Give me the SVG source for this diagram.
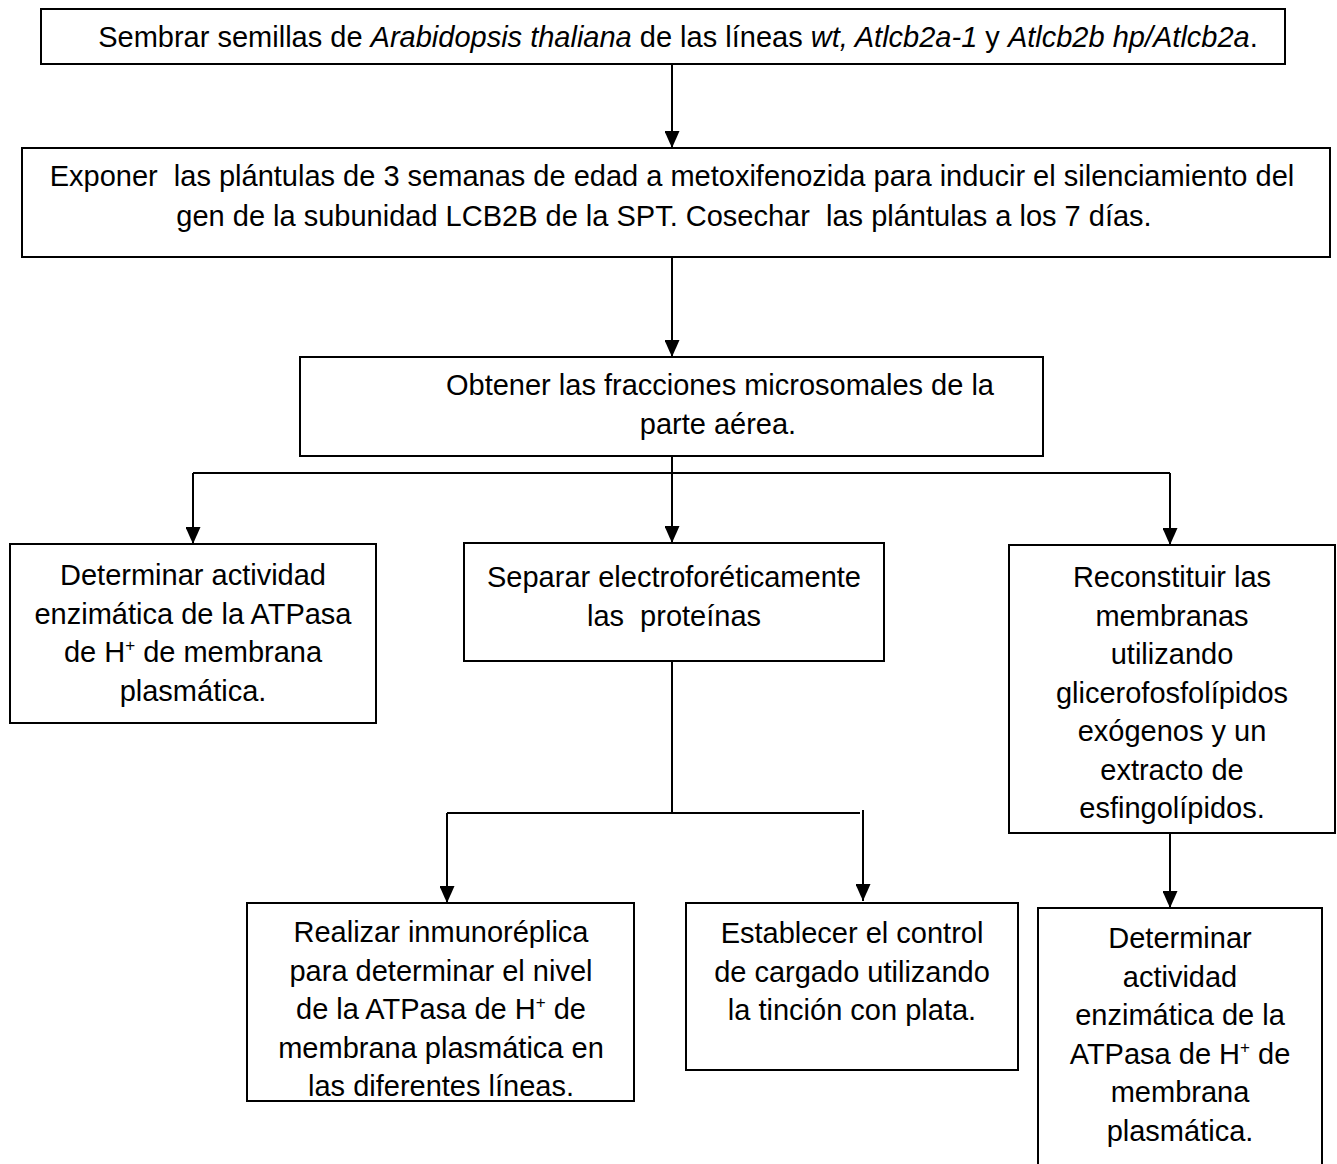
<svg xmlns="http://www.w3.org/2000/svg" width="1337" height="1164" viewBox="0 0 1337 1164">
<style>
.box{fill:#fff;stroke:#000;stroke-width:2}
.t{font-family:"Liberation Sans",Arial,sans-serif;font-size:29px;fill:#000;text-anchor:middle}
.i{font-style:italic}
.sup{font-size:17px}
.c{fill:none;stroke:#000;stroke-width:2}
</style>
<defs>
<marker id="ah" markerUnits="userSpaceOnUse" markerWidth="17" markerHeight="15" refX="17" refY="7.5" orient="auto">
<path d="M0,0 L17,7.5 L0,15 z" fill="#000"/>
</marker>
</defs>
<rect width="1337" height="1164" fill="#fff"/>
<g id="connectors">
<path class="c" d="M672,64 V148" marker-end="url(#ah)"/>
<path class="c" d="M672,257 V357" marker-end="url(#ah)"/>
<path class="c" d="M672,456 V543" marker-end="url(#ah)"/>
<path class="c" d="M193,473 H1170"/>
<path class="c" d="M193,473 V544" marker-end="url(#ah)"/>
<path class="c" d="M1170,473 V545" marker-end="url(#ah)"/>
<path class="c" d="M672,661 V813"/>
<path class="c" d="M447,813 H860"/>
<path class="c" d="M447,813 V903" marker-end="url(#ah)"/>
<path class="c" d="M863,810 V901" marker-end="url(#ah)"/>
<path class="c" d="M1170,833 V908" marker-end="url(#ah)"/>
</g>
<g id="n1">
<rect class="box" x="41" y="9" width="1244" height="55"/>
<text class="t" x="678" y="47">Sembrar semillas de <tspan class="i">Arabidopsis thaliana</tspan> de las líneas <tspan class="i">wt, Atlcb2a-1</tspan> y <tspan class="i">Atlcb2b hp/Atlcb2a</tspan>.</text>
</g>
<g id="n2">
<rect class="box" x="22" y="148" width="1308" height="109"/>
<text class="t" x="672" y="186" xml:space="preserve">Exponer  las plántulas de 3 semanas de edad a metoxifenozida para inducir el silenciamiento del</text>
<text class="t" x="664" y="226" xml:space="preserve">gen de la subunidad LCB2B de la SPT. Cosechar  las plántulas a los 7 días.</text>
</g>
<g id="n3">
<rect class="box" x="300" y="357" width="743" height="99"/>
<text class="t" x="720" y="395">Obtener las fracciones microsomales de la</text>
<text class="t" x="718" y="434">parte aérea.</text>
</g>
<g id="n4">
<rect class="box" x="10" y="544" width="366" height="179"/>
<text class="t" x="193" y="585">Determinar actividad</text>
<text class="t" x="193" y="623.5">enzimática de la ATPasa</text>
<text class="t" x="193" y="662">de H<tspan class="sup" dy="-11">+</tspan><tspan dy="11"> de membrana</tspan></text>
<text class="t" x="193" y="700.5">plasmática.</text>
</g>
<g id="n5">
<rect class="box" x="464" y="543" width="420" height="118"/>
<text class="t" x="674" y="587">Separar electroforéticamente</text>
<text class="t" x="674" y="626" xml:space="preserve">las  proteínas</text>
</g>
<g id="n6">
<rect class="box" x="1009" y="545" width="326" height="288"/>
<text class="t" x="1172" y="587">Reconstituir las</text>
<text class="t" x="1172" y="625.5">membranas</text>
<text class="t" x="1172" y="664">utilizando</text>
<text class="t" x="1172" y="702.5">glicerofosfolípidos</text>
<text class="t" x="1172" y="741">exógenos y un</text>
<text class="t" x="1172" y="779.5">extracto de</text>
<text class="t" x="1172" y="818">esfingolípidos.</text>
</g>
<g id="n7">
<rect class="box" x="247" y="903" width="387" height="198"/>
<text class="t" x="441" y="942">Realizar inmunoréplica</text>
<text class="t" x="441" y="980.5">para determinar el nivel</text>
<text class="t" x="441" y="1019">de la ATPasa de H<tspan class="sup" dy="-11">+</tspan><tspan dy="11"> de</tspan></text>
<text class="t" x="441" y="1057.5">membrana plasmática en</text>
<text class="t" x="441" y="1096">las diferentes líneas.</text>
</g>
<g id="n8">
<rect class="box" x="686" y="903" width="332" height="167"/>
<text class="t" x="852" y="943">Establecer el control</text>
<text class="t" x="852" y="981.5">de cargado utilizando</text>
<text class="t" x="852" y="1020">la tinción con plata.</text>
</g>
<g id="n9">
<rect class="box" x="1038" y="908" width="284" height="270"/>
<text class="t" x="1180" y="948">Determinar</text>
<text class="t" x="1180" y="986.5">actividad</text>
<text class="t" x="1180" y="1025">enzimática de la</text>
<text class="t" x="1180" y="1063.5">ATPasa de H<tspan class="sup" dy="-11">+</tspan><tspan dy="11"> de</tspan></text>
<text class="t" x="1180" y="1102">membrana</text>
<text class="t" x="1180" y="1140.5">plasmática.</text>
</g>
</svg>
